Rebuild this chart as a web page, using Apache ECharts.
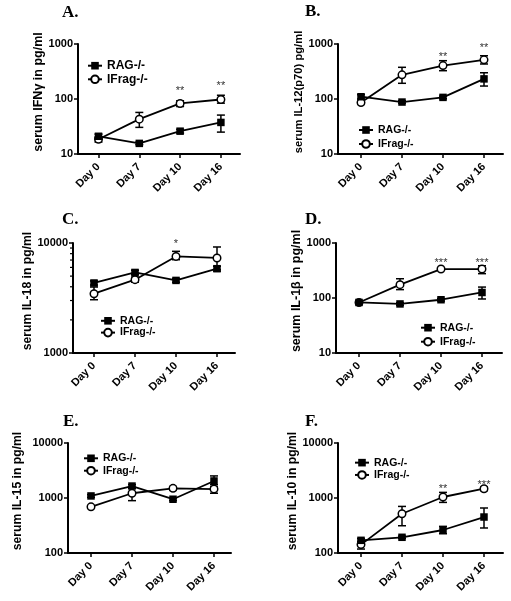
<!DOCTYPE html>
<html><head><meta charset="utf-8">
<script src="https://cdn.jsdelivr.net/npm/echarts@6/dist/echarts.min.js"></script>
<style>html,body{margin:0;padding:0;background:#fff}#c{width:511px;height:601px}</style>
</head><body><div id="c"></div>
<script>
// ---------- DATA ----------
const categories = ['Day 0', 'Day 7', 'Day 10', 'Day 16'];
const seriesNames = ['RAG-/-', 'IFrag-/-'];
const panelLetters = ['A.', 'B.', 'C.', 'D.', 'E.', 'F.'];
const yAxisNames = ['serum IFNγ in pg/ml', 'serum IL-12(p70) pg/ml', 'serum IL-18 in pg/ml',
  'serum IL-1β in pg/ml', 'serum IL-15 in pg/ml', 'serum IL-10 in pg/ml'];
const yMins = [10, 10, 1000, 10, 100, 100];
const yMaxs = [1000, 1000, 10000, 1000, 10000, 10000];

// A: IFN-gamma
const ragA = [21, 15.6, 26, 37.5], ragA_lo = [19.5, 14.8, 24, 25], ragA_hi = [23, 16.5, 28, 51];
const ifrA = [18.5, 43, 83, 98], ifrA_lo = [16.5, 30.5, 73, 84], ifrA_hi = [20.5, 57, 93, 117];
// B: IL-12(p70)
const ragB = [110, 88, 107, 232], ragB_lo = [100, 84, 101, 172], ragB_hi = [120, 93, 113, 300];
const ifrB = [86, 275, 405, 515], ifrB_lo = [80, 193, 327, 433], ifrB_hi = [92, 377, 497, 612];
// C: IL-18
const ragC = [4330, 5400, 4570, 5840], ragC_lo = [4150, 5150, 4400, 5550], ragC_hi = [4520, 5650, 4750, 6150];
const ifrC = [3460, 4640, 7550, 7310], ifrC_lo = [3050, 4400, 7050, 5730], ifrC_hi = [3980, 4900, 8400, 9200];
// D: IL-1beta
const ragD = [83, 78, 93, 126], ragD_lo = [79, 74, 88, 96], ragD_hi = [87, 82, 98, 158];
const ifrD = [83, 175, 336, 336], ifrD_lo = [79, 142, 320, 277], ifrD_hi = [87, 224, 352, 386];
// E: IL-15
const ragE = [1090, 1650, 950, 2040], ragE_lo = [1030, 1550, 900, 1600], ragE_hi = [1150, 1750, 1000, 2520];
const ifrE = [690, 1220, 1500, 1450], ifrE_lo = [650, 895, 1380, 1220], ifrE_hi = [730, 1500, 1620, 1740];
// F: IL-10
const ragF = [170, 193, 262, 451], ragF_lo = [158, 184, 224, 285], ragF_hi = [183, 203, 305, 658];
const ifrF = [142, 518, 1043, 1475], ifrF_lo = [118, 313, 832, 1360], ifrF_hi = [163, 703, 1265, 1600];

// significance stars: category index, y value, text
const starCatA = [2, 3], starValA = [158, 195], starTxtA = ['**', '**'];
const starCatB = [2, 3], starValB = [658, 955], starTxtB = ['**', '**'];
const starCatC = [2], starValC = [10350], starTxtC = ['*'];
const starCatD = [2, 3], starValD = [497, 497], starTxtD = ['***', '***'];
const starCatE = [], starValE = [], starTxtE = [];
const starCatF = [2, 3], starValF = [1675, 1936], starTxtF = ['**', '***'];

// minor log ticks shown on panel C's y axis
const minorTicksC = [2000, 3000, 4000, 5000, 6000, 7000, 8000, 9000];

// ---------- LAYOUT (pixels / styles) ----------
const L = [
  {left: 78, right: 240, top: 44, cat0: 98.5, sp: 40.8, tx: 62, ty: 4, lx: 87, ly: 58.9, row: 13.6, lf: 12, gap: 31, nf: 12.5},
  {left: 338, right: 503, top: 44, cat0: 361, sp: 41, tx: 305, ty: 3, lx: 358, ly: 123, row: 14, lf: 10.5, gap: 34, nf: 11.2},
  {left: 73, right: 235, top: 243, cat0: 94, sp: 41, tx: 62, ty: 211, lx: 100, ly: 314.9, row: 11.8, lf: 10.5, gap: 34.5, nf: 12.2},
  {left: 336, right: 502, top: 243, cat0: 359, sp: 41, tx: 305, ty: 211, lx: 420, ly: 320.7, row: 14, lf: 10.5, gap: 29.5, nf: 12.5},
  {left: 68, right: 231, top: 443, cat0: 91, sp: 41, tx: 63, ty: 413, lx: 83, ly: 452.1, row: 12.4, lf: 10.5, gap: 44, nf: 12.2},
  {left: 338, right: 503, top: 443, cat0: 361, sp: 41, tx: 305, ty: 413, lx: 354, ly: 456.5, row: 12.3, lf: 10.5, gap: 37, nf: 12.2}
];
const H = 110;

const panels = [
  [ragA, ragA_lo, ragA_hi, ifrA, ifrA_lo, ifrA_hi, starCatA, starValA, starTxtA],
  [ragB, ragB_lo, ragB_hi, ifrB, ifrB_lo, ifrB_hi, starCatB, starValB, starTxtB],
  [ragC, ragC_lo, ragC_hi, ifrC, ifrC_lo, ifrC_hi, starCatC, starValC, starTxtC],
  [ragD, ragD_lo, ragD_hi, ifrD, ifrD_lo, ifrD_hi, starCatD, starValD, starTxtD],
  [ragE, ragE_lo, ragE_hi, ifrE, ifrE_lo, ifrE_hi, starCatE, starValE, starTxtE],
  [ragF, ragF_lo, ragF_hi, ifrF, ifrF_lo, ifrF_hi, starCatF, starValF, starTxtF]
];

const FONT = '"Liberation Sans", Arial, sans-serif';
const BLACK = '#000';

const grid = [], xAxis = [], yAxis = [], series = [], title = [], legend = [];

panels.forEach((p, i) => {
  const g = L[i];
  const xmin = -(g.cat0 - g.left) / g.sp;
  const xmax = 3 + (g.right - (g.cat0 + 3 * g.sp)) / g.sp;
  grid.push({left: g.left, top: g.top, width: g.right - g.left, height: H, containLabel: false, outerBoundsMode: 'none'});
  xAxis.push({
    type: 'value', gridIndex: i, min: xmin, max: xmax,
    axisLine: {show: true, onZero: false, lineStyle: {color: BLACK, width: 2}},
    axisTick: {show: true, customValues: [0, 1, 2, 3], length: 4, lineStyle: {color: BLACK, width: 1.5}},
    axisLabel: {customValues: [0, 1, 2, 3], formatter: v => categories[Math.round(v)], rotate: 45, margin: 11,
      fontFamily: FONT, fontWeight: 'bold', fontSize: 11, color: BLACK},
    splitLine: {show: false}
  });
  yAxis.push({
    type: 'log', logBase: 10, gridIndex: i, min: yMins[i], max: yMaxs[i],
    axisLine: {show: true, onZero: false, lineStyle: {color: BLACK, width: 2}},
    axisTick: {show: true, length: 4, lineStyle: {color: BLACK, width: 1.5}},
    axisLabel: {formatter: v => String(Math.round(v)), margin: 5, fontFamily: FONT, fontWeight: 'bold', fontSize: 11, color: BLACK},
    splitLine: {show: false},
    minorTick: {show: false},
    name: yAxisNames[i], nameLocation: 'middle', nameGap: g.gap,
    nameTextStyle: {fontFamily: FONT, fontWeight: 'bold', fontSize: g.nf, color: BLACK, padding: [0, 0, 0, 14]}
  });
  title.push({text: panelLetters[i], left: g.tx, top: g.ty, padding: 0,
    textStyle: {fontFamily: '"Liberation Serif", "Times New Roman", serif', fontWeight: 'bold', fontSize: 17, color: BLACK}});
  legend.push({
    data: seriesNames, left: g.lx, top: g.ly, orient: 'vertical', padding: 0, itemGap: 0,
    itemWidth: 14, itemHeight: 9.5, selectedMode: false,
    textStyle: {fontFamily: FONT, fontWeight: 'bold', fontSize: g.lf, lineHeight: g.row, color: BLACK}
  });

  const [rag, ragLo, ragHi, ifr, ifrLo, ifrHi, sCat, sVal, sTxt] = p;
  // error bars
  const errData = [];
  categories.forEach((c, k) => {
    errData.push([k, ragLo[k], ragHi[k]]);
    errData.push([k, ifrLo[k], ifrHi[k]]);
  });
  series.push({
    type: 'custom', xAxisIndex: i, yAxisIndex: i, z: 2, clip: false, silent: true,
    encode: {x: 0, y: [1, 2]}, data: errData,
    renderItem: (params, api) => {
      const x = api.value(0);
      const a = api.coord([x, api.value(2)]);
      const b = api.coord([x, api.value(1)]);
      const w = 4;
      const st = () => ({stroke: BLACK, lineWidth: 1.5});
      return {type: 'group', children: [
        {type: 'line', shape: {x1: a[0], y1: a[1], x2: b[0], y2: b[1]}, style: st()},
        {type: 'line', shape: {x1: a[0] - w, y1: a[1], x2: a[0] + w, y2: a[1]}, style: st()},
        {type: 'line', shape: {x1: b[0] - w, y1: b[1], x2: b[0] + w, y2: b[1]}, style: st()}
      ]};
    }
  });
  series.push({
    name: seriesNames[0], type: 'line', xAxisIndex: i, yAxisIndex: i, z: 4,
    data: rag.map((v, k) => [k, v]), symbol: 'rect', symbolSize: 7.5,
    itemStyle: {color: BLACK}, lineStyle: {color: BLACK, width: 1.8}, animation: false
  });
  series.push({
    name: seriesNames[1], type: 'line', xAxisIndex: i, yAxisIndex: i, z: 3,
    data: ifr.map((v, k) => [k, v]), symbol: 'circle', symbolSize: 7.5, showAllSymbol: true,
    itemStyle: {color: '#fff', borderColor: BLACK, borderWidth: 1.5}, lineStyle: {color: BLACK, width: 1.8}, animation: false
  });
  if (sCat.length) {
    series.push({
      type: 'custom', xAxisIndex: i, yAxisIndex: i, z: 5, clip: false, silent: true,
      encode: {x: 0, y: 1}, data: sCat.map((c, k) => [c, sVal[k]]),
      renderItem: (params, api) => {
        const pt = api.coord([api.value(0), api.value(1)]);
        return {type: 'text', x: pt[0], y: pt[1] + 3,
          style: {text: sTxt[params.dataIndex], fill: '#333', font: '11px ' + FONT,
            align: 'center', verticalAlign: 'middle', textAlign: 'center', textVerticalAlign: 'middle'}};
      }
    });
  }
  if (i === 2) {
    series.push({
      type: 'custom', xAxisIndex: i, yAxisIndex: i, z: 5, clip: false, silent: true,
      encode: {x: 0, y: 1}, data: minorTicksC.map(v => [xmin, v]),
      renderItem: (params, api) => {
        const pt = api.coord([api.value(0), api.value(1)]);
        return {type: 'line', shape: {x1: pt[0] - 3, y1: pt[1], x2: pt[0], y2: pt[1]}, style: {stroke: BLACK, lineWidth: 1.2}};
      }
    });
  }
});

const chart = echarts.init(document.getElementById('c'), null, {renderer: 'canvas'});
chart.setOption({
  backgroundColor: '#fff', animation: false,
  title, legend, grid, xAxis, yAxis, series
});
</script></body></html>
